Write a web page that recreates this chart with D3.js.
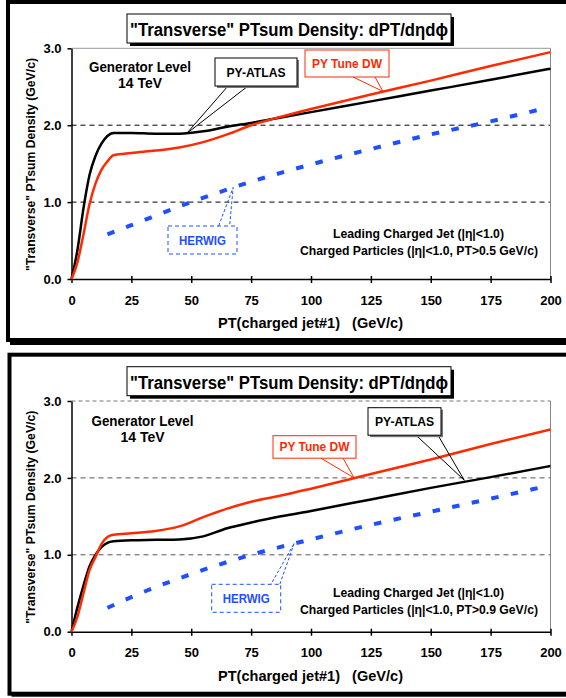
<!DOCTYPE html>
<html>
<head>
<meta charset="utf-8">
<script src="https://cdn.jsdelivr.net/npm/d3@7"></script>
<style>
  body { margin: 0; background: #fff; }
  text { font-family: 'Liberation Sans', Arial, sans-serif; font-weight: bold; }
</style>
</head>
<body>
<div id="chart"></div>
<script>
// tick labels
const ptTicks = [0, 25, 50, 75, 100, 125, 150, 175, 200];
const yTicks = [0, 1, 2, 3];

// PT(charged jet#1) points for the PYTHIA curves
const ptCurve = [0, 2.5, 5, 7.5, 10, 12.5, 15, 17.5, 25, 35, 45, 55, 65, 75, 87.5, 100, 125, 150, 175, 200];
// PT > 0.5 GeV/c
const atlas05 = [0, 0.38, 0.92, 1.35, 1.6, 1.76, 1.86, 1.9, 1.9, 1.89, 1.89, 1.92, 1.98, 2.03, 2.1, 2.17, 2.31, 2.45, 2.59, 2.735];
const dw05    = [0, 0.22, 0.58, 0.97, 1.24, 1.42, 1.53, 1.61, 1.64, 1.67, 1.71, 1.78, 1.88, 2.0, 2.11, 2.21, 2.4, 2.58, 2.77, 2.95];
// PT > 0.9 GeV/c
const atlas09 = [0, 0.32, 0.6, 0.85, 1.0, 1.1, 1.155, 1.175, 1.19, 1.195, 1.2, 1.24, 1.345, 1.42, 1.5, 1.57, 1.72, 1.87, 2.01, 2.155];
const dw09    = [0, 0.2, 0.5, 0.8, 0.97, 1.14, 1.23, 1.26, 1.28, 1.31, 1.37, 1.49, 1.6, 1.69, 1.77, 1.86, 2.05, 2.24, 2.44, 2.63];

// HERWIG
const ptHerwig = [15, 25, 50, 75, 100, 125, 150, 175, 195];
const herwig05 = [0.58, 0.7, 1.0, 1.265, 1.49, 1.69, 1.88, 2.05, 2.2];
const herwig09 = [0.31, 0.45, 0.75, 1.0, 1.2, 1.39, 1.56, 1.73, 1.87];

const RED = '#ff2a00', BLUE = '#1f4fff';

const panels = [
  {
    top: 0, frameX: 8, frameY: 2, frameH: 338, shadow: 3,
    grid: '#000', topLine: '#999', topDash: null,
    atlas: atlas05, dw: dw05, herwig: herwig05,
    cut: '0.5', legendY: 238, genY: 72, genX: 140,
    callouts: [
      { text: 'PY-ATLAS', color: '#000', box: [215, 58, 82, 28], base: [228, 248], tip: [48, 1.89], len: 59, shadow: true },
      { text: 'PY Tune DW', color: RED, box: [305, 50, 84, 27], base: [353, 375], tip: [130, 2.44], len: 70 },
      { text: 'HERWIG', color: BLUE, box: [168, 226, 69, 28], base: [208, 227], tip: [67.5, 1.19], len: 47, dashed: true }
    ]
  },
  {
    top: 352.7, frameX: 9.5, frameY: 2, frameH: 339, shadow: 1,
    grid: '#555', topLine: '#777', topDash: '4,3',
    atlas: atlas09, dw: dw09, herwig: herwig09,
    cut: '0.9', legendY: 244, genY: 73.5, genX: 142.5,
    callouts: [
      { text: 'PY-ATLAS', color: '#000', box: [368, 55, 73, 27.5], base: [416, 438], tip: [164, 1.97], len: 59, shadow: true },
      { text: 'PY Tune DW', color: RED, box: [273, 83, 83, 22.5], base: [321, 343], tip: [118, 2.0], len: 70 },
      { text: 'HERWIG', color: BLUE, box: [211.7, 231.6, 69, 28], base: [255, 270], tip: [93, 1.15], len: 47, dashed: true }
    ]
  }
];

const svg = d3.select('#chart').append('svg')
  .attr('width', 566)
  .attr('height', 698);

const x = d3.scaleLinear().domain([0, 200]).range([71.5, 550.5]);
const y = d3.scaleLinear().domain([0, 3]).range([279, 48.3]);

const line = d3.line()
  .x(d => x(d[0]))
  .y(d => y(d[1]))
  .curve(d3.curveMonotoneX);

function callout(g, c) {
  const [bx, by, bw, bh] = c.box;
  const tx = x(c.tip[0]), ty = y(c.tip[1]);
  c.base.forEach(b => {
    g.append('line')
      .attr('x1', b).attr('y1', by + bh)
      .attr('x2', tx).attr('y2', ty)
      .attr('stroke', c.color)
      .attr('stroke-width', 1)
      .attr('stroke-dasharray', c.dashed ? '3,2' : null);
  });
  if (c.shadow) {
    g.append('rect')
      .attr('x', bx + 2).attr('y', by + 2)
      .attr('width', bw).attr('height', bh)
      .attr('fill', '#777');
  }
  g.append('rect')
    .attr('x', bx).attr('y', by)
    .attr('width', bw).attr('height', bh)
    .attr('fill', '#fff')
    .attr('stroke', c.color)
    .attr('stroke-width', 1)
    .attr('stroke-dasharray', c.dashed ? '4,3' : null);
  g.append('text')
    .attr('x', bx + bw / 2).attr('y', by + bh / 2 + 4.5)
    .attr('text-anchor', 'middle')
    .attr('font-size', 13)
    .attr('fill', c.color)
    .attr('textLength', c.len)
    .attr('lengthAdjust', 'spacingAndGlyphs')
    .text(c.text);
}

panels.forEach(p => {
  const g = svg.append('g').attr('transform', `translate(0,${p.top})`);

  // outer frame
  g.append('rect')
    .attr('x', p.frameX + 2).attr('y', p.frameY + p.frameH)
    .attr('width', 620).attr('height', p.shadow + 2)
    .attr('fill', '#000');
  g.append('rect')
    .attr('x', p.frameX).attr('y', p.frameY)
    .attr('width', 620).attr('height', p.frameH)
    .attr('fill', '#fff')
    .attr('stroke', '#000')
    .attr('stroke-width', 4);

  // title box
  g.append('rect').attr('x', 130).attr('y', 17).attr('width', 324).attr('height', 29).attr('fill', '#000');
  g.append('rect').attr('x', 127).attr('y', 14).attr('width', 324).attr('height', 29)
    .attr('fill', '#fff').attr('stroke', '#000').attr('stroke-width', 1);
  g.append('text')
    .attr('x', 289).attr('y', 36)
    .attr('text-anchor', 'middle')
    .attr('font-size', 18)
    .attr('textLength', 318)
    .attr('lengthAdjust', 'spacingAndGlyphs')
    .text('"Transverse" PTsum Density: dPT/dηdϕ');

  // grid lines, top and right frame
  g.selectAll('.grid').data([1, 2]).enter().append('line')
    .attr('x1', x(0)).attr('x2', x(200))
    .attr('y1', d => y(d)).attr('y2', d => y(d))
    .attr('stroke', p.grid)
    .attr('stroke-width', 1)
    .attr('stroke-dasharray', '5,4');
  g.append('line')
    .attr('x1', x(0)).attr('x2', x(200))
    .attr('y1', y(3)).attr('y2', y(3))
    .attr('stroke', p.topLine).attr('stroke-width', 1)
    .attr('stroke-dasharray', p.topDash);
  g.append('line')
    .attr('x1', x(200)).attr('x2', x(200))
    .attr('y1', y(3)).attr('y2', y(0))
    .attr('stroke', '#888').attr('stroke-width', 1);

  // axes
  const xAxis = g.append('g')
    .attr('transform', `translate(0,${y(0)})`)
    .call(d3.axisBottom(x).tickValues(ptTicks).tickSize(4).tickSizeOuter(0).tickFormat(d3.format('d')));
  xAxis.select('.domain').attr('stroke', '#000').attr('stroke-width', 1.5);
  xAxis.selectAll('.tick line').attr('y1', -3).attr('stroke-width', 1.5);
  xAxis.selectAll('.tick text')
    .attr('y', 16.5)
    .attr('font-size', 13)
    .attr('font-family', null)
    .attr('fill', '#000');

  const yAxis = g.append('g')
    .attr('transform', `translate(${x(0)},0)`)
    .call(d3.axisLeft(y).tickValues(yTicks).tickSize(4).tickSizeOuter(0).tickPadding(6).tickFormat(d3.format('.1f')));
  yAxis.select('.domain').attr('stroke', '#000').attr('stroke-width', 1.5);
  yAxis.selectAll('.tick line').attr('stroke-width', 1.5);
  yAxis.selectAll('.tick text')
    .attr('font-size', 13)
    .attr('font-family', null)
    .attr('fill', '#000');

  // axis titles
  g.append('text')
    .attr('x', 310.5).attr('y', 328)
    .attr('text-anchor', 'middle')
    .attr('font-size', 15)
    .attr('textLength', 185)
    .attr('lengthAdjust', 'spacingAndGlyphs')
    .attr('xml:space', 'preserve')
    .text('PT(charged jet#1)   (GeV/c)');
  g.append('text')
    .attr('transform', 'translate(34.5,164.5) rotate(-90)')
    .attr('text-anchor', 'middle')
    .attr('font-size', 13)
    .attr('textLength', 213)
    .attr('lengthAdjust', 'spacingAndGlyphs')
    .text('"Transverse" PTsum Density (GeV/c)');

  // curves
  g.append('path')
    .datum(d3.zip(ptHerwig, p.herwig))
    .attr('d', line)
    .attr('fill', 'none')
    .attr('stroke', BLUE)
    .attr('stroke-width', 4)
    .attr('stroke-dasharray', '7.5,12.5');
  g.append('path')
    .datum(d3.zip(ptCurve, p.atlas))
    .attr('d', line)
    .attr('fill', 'none')
    .attr('stroke', '#000')
    .attr('stroke-width', 2.5);
  g.append('path')
    .datum(d3.zip(ptCurve, p.dw))
    .attr('d', line)
    .attr('fill', 'none')
    .attr('stroke', RED)
    .attr('stroke-width', 2.5);

  // annotations
  g.append('text')
    .attr('x', p.genX).attr('y', p.genY)
    .attr('text-anchor', 'middle').attr('font-size', 14)
    .attr('textLength', 102).attr('lengthAdjust', 'spacingAndGlyphs')
    .text('Generator Level');
  g.append('text')
    .attr('x', p.genX).attr('y', p.genY + 16)
    .attr('text-anchor', 'middle').attr('font-size', 14)
    .attr('textLength', 44).attr('lengthAdjust', 'spacingAndGlyphs')
    .text('14 TeV');

  g.append('text')
    .attr('x', 418.5).attr('y', p.legendY)
    .attr('text-anchor', 'middle').attr('font-size', 12)
    .attr('textLength', 171).attr('lengthAdjust', 'spacingAndGlyphs')
    .text('Leading Charged Jet (|η|<1.0)');
  g.append('text')
    .attr('x', 419).attr('y', p.legendY + 17)
    .attr('text-anchor', 'middle').attr('font-size', 12)
    .attr('textLength', 238).attr('lengthAdjust', 'spacingAndGlyphs')
    .text(`Charged Particles (|η|<1.0, PT>${p.cut} GeV/c)`);

  p.callouts.forEach(c => callout(g, c));
});
</script>
</body>
</html>
